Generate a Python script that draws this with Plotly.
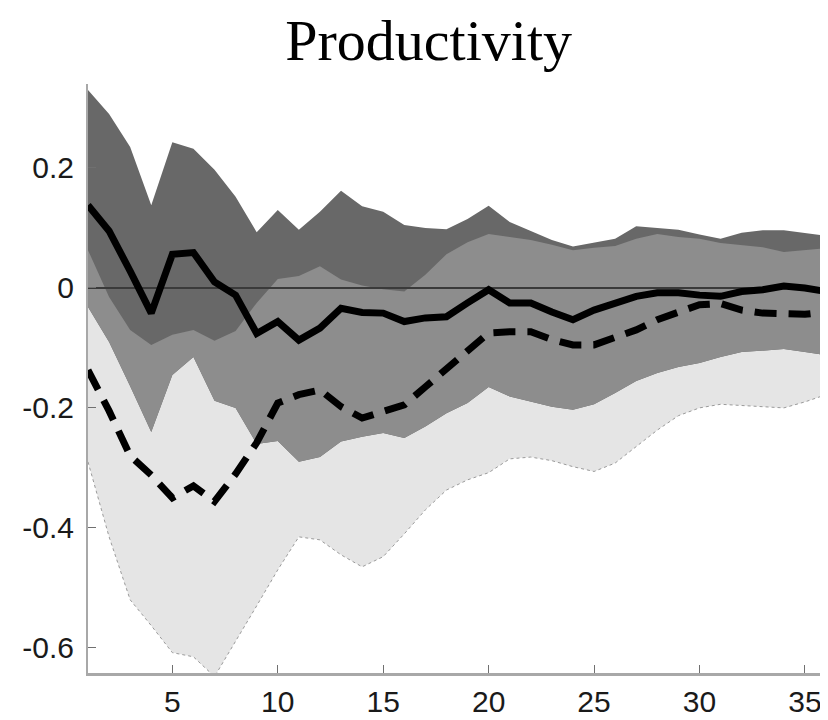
import plotly.graph_objects as go

periods = list(range(1, 37))

# solid-line response and its band (dark band)
solid_mid = [0.138, 0.095, 0.028, -0.042, 0.056, 0.059, 0.010, -0.012, -0.076, -0.056,
             -0.087, -0.067, -0.034, -0.041, -0.042, -0.056, -0.050, -0.048, -0.025, -0.003,
             -0.025, -0.025, -0.040, -0.053, -0.037, -0.025, -0.014, -0.008, -0.008, -0.012,
             -0.014, -0.006, -0.003, 0.003, 0.000, -0.006]
solid_up = [0.330, 0.290, 0.235, 0.138, 0.243, 0.232, 0.197, 0.152, 0.093, 0.130,
            0.097, 0.127, 0.162, 0.136, 0.127, 0.105, 0.100, 0.098, 0.115, 0.137,
            0.110, 0.095, 0.080, 0.069, 0.076, 0.082, 0.103, 0.100, 0.097, 0.089,
            0.082, 0.092, 0.096, 0.096, 0.092, 0.087]
solid_lo = [-0.032, -0.090, -0.164, -0.240, -0.145, -0.115, -0.188, -0.200, -0.260, -0.255,
            -0.290, -0.282, -0.256, -0.248, -0.242, -0.250, -0.231, -0.209, -0.192, -0.165,
            -0.181, -0.190, -0.198, -0.203, -0.194, -0.175, -0.155, -0.142, -0.132, -0.125,
            -0.115, -0.107, -0.104, -0.102, -0.107, -0.112]

# dashed-line response and its band (light band)
dashed_mid = [-0.137, -0.205, -0.280, -0.312, -0.350, -0.330, -0.356, -0.310, -0.258, -0.192,
              -0.178, -0.170, -0.198, -0.217, -0.206, -0.195, -0.165, -0.134, -0.103, -0.075,
              -0.073, -0.073, -0.086, -0.095, -0.095, -0.084, -0.070, -0.053, -0.039, -0.028,
              -0.026, -0.037, -0.042, -0.044, -0.044, -0.040]
dashed_up = [0.063, -0.015, -0.070, -0.095, -0.078, -0.070, -0.088, -0.072, -0.025, 0.015,
             0.020, 0.036, 0.014, 0.004, -0.002, -0.006, 0.022, 0.056, 0.076, 0.090,
             0.085, 0.080, 0.072, 0.063, 0.067, 0.070, 0.082, 0.090, 0.085, 0.082,
             0.075, 0.072, 0.068, 0.060, 0.063, 0.066]
dashed_lo = [-0.290, -0.415, -0.520, -0.563, -0.608, -0.615, -0.648, -0.590, -0.530, -0.470,
             -0.415, -0.420, -0.445, -0.465, -0.448, -0.410, -0.370, -0.337, -0.320, -0.308,
             -0.285, -0.282, -0.288, -0.298, -0.306, -0.292, -0.265, -0.237, -0.213, -0.200,
             -0.194, -0.196, -0.198, -0.200, -0.190, -0.178]

x_tick_vals = [5, 10, 15, 20, 25, 30, 35]
x_tick_text = ["5", "10", "15", "20", "25", "30", "35"]
y_tick_vals = [-0.6, -0.4, -0.2, 0, 0.2]
y_tick_text = ["-0.6", "-0.4", "-0.2", "0", "0.2"]

LIGHT = "#e5e5e5"
DARK = "#686868"
MID = "#8d8d8d"

fig = go.Figure()

# light band (dashed response)
fig.add_trace(go.Scatter(x=periods, y=dashed_lo, mode="lines",
                         line=dict(color="#9a9a9a", width=1, dash="3px,3px"),
                         showlegend=False, hoverinfo="skip"))
fig.add_trace(go.Scatter(x=periods, y=dashed_up, mode="lines", fill="tonexty",
                         fillcolor=LIGHT, line=dict(width=0),
                         showlegend=False, hoverinfo="skip"))
# dark band (solid response)
fig.add_trace(go.Scatter(x=periods, y=solid_lo, mode="lines",
                         line=dict(width=0), showlegend=False, hoverinfo="skip"))
fig.add_trace(go.Scatter(x=periods, y=solid_up, mode="lines", fill="tonexty",
                         fillcolor=DARK, line=dict(width=0),
                         showlegend=False, hoverinfo="skip"))
# overlap of the two bands
fig.add_trace(go.Scatter(x=periods, y=solid_lo, mode="lines",
                         line=dict(width=0), showlegend=False, hoverinfo="skip"))
fig.add_trace(go.Scatter(x=periods, y=dashed_up, mode="lines", fill="tonexty",
                         fillcolor=MID, line=dict(width=0),
                         showlegend=False, hoverinfo="skip"))

# zero line
fig.add_trace(go.Scatter(x=[periods[0], periods[-1]], y=[0, 0], mode="lines",
                         line=dict(color="#3a3a3a", width=2),
                         showlegend=False, hoverinfo="skip"))

# responses
fig.add_trace(go.Scatter(x=periods, y=solid_mid, mode="lines",
                         line=dict(color="black", width=7),
                         showlegend=False))
fig.add_trace(go.Scatter(x=periods, y=dashed_mid, mode="lines",
                         line=dict(color="black", width=7, dash="22px,12px"),
                         showlegend=False))

fig.update_layout(
    width=820, height=712,
    margin=dict(l=80, r=2, t=76, b=47),
    paper_bgcolor="white", plot_bgcolor="white",
    title=dict(text="Productivity", x=0.513, xref="container", xanchor="center",
               y=0.955, yref="container", yanchor="middle",
               font=dict(family="Liberation Serif", size=58, color="black")),
    xaxis=dict(range=[1, 36], tickvals=x_tick_vals, ticktext=x_tick_text,
               ticks="inside", ticklen=8, tickwidth=1, tickcolor="#707070",
               showline=True, linecolor="#a8a8a8", linewidth=3,
               showgrid=False, zeroline=False,
               tickfont=dict(family="Liberation Sans", size=30, color="#1a1a1a")),
    yaxis=dict(range=[-0.642, 0.34], tickvals=y_tick_vals, ticktext=y_tick_text,
               ticks="inside", ticklen=8, tickwidth=1, tickcolor="#707070",
               showline=True, linecolor="#a8a8a8", linewidth=2,
               showgrid=False, zeroline=False, ticklabelstandoff=6,
               tickfont=dict(family="Liberation Sans", size=30, color="#1a1a1a")),
)

fig.write_html("out.html")
